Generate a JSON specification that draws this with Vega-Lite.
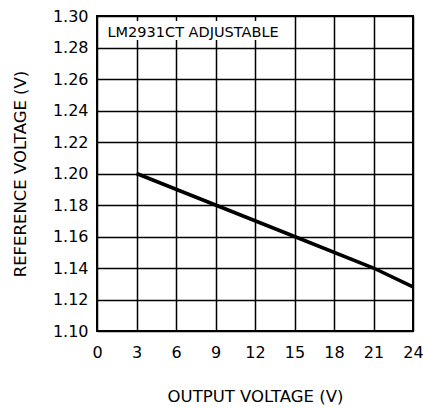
{
  "$schema": "https://vega.github.io/schema/vega-lite/v6.json",
  "width": 316,
  "height": 315,
  "autosize": {"type": "none"},
  "padding": {"left": 97, "top": 16, "right": 10, "bottom": 76},
  "background": "white",
  "config": {
    "view": {"stroke": "#000", "strokeWidth": 2},
    "font": "DejaVu Sans",
    "axis": {
      "grid": true, "gridColor": "#000", "gridOpacity": 1, "gridWidth": 1.5,
      "domain": false, "ticks": false, "labelOverlap": false,
      "labelFont": "DejaVu Sans", "labelFontSize": 16, "labelColor": "#000",
      "titleFont": "DejaVu Sans", "titleFontSize": 16.5, "titleFontWeight": "normal", "titleColor": "#000"
    }
  },
  "datasets": {
    "curve": [
      {"vout": 3, "vref": 1.200},
      {"vout": 9, "vref": 1.180},
      {"vout": 15, "vref": 1.160},
      {"vout": 21, "vref": 1.140},
      {"vout": 24, "vref": 1.128}
    ],
    "note": [
      {"label": "LM2931CT ADJUSTABLE", "x": 0.8, "y": 1.2892, "x1": 0.3, "x2": 14.6, "y1": 1.2848, "y2": 1.2968}
    ]
  },
  "layer": [
    {
      "data": {"name": "curve"},
      "mark": {"type": "line", "color": "#000", "strokeWidth": 3.5},
      "encoding": {
        "x": {
          "field": "vout", "type": "quantitative",
          "scale": {"domain": [0, 24], "nice": false, "zero": false},
          "axis": {"values": [0, 3, 6, 9, 12, 15, 18, 21, 24], "title": "OUTPUT VOLTAGE (V)", "labelPadding": 13, "titlePadding": 28, "labelFlush": false}
        },
        "y": {
          "field": "vref", "type": "quantitative",
          "scale": {"domain": [1.10, 1.30], "nice": false, "zero": false},
          "axis": {"values": [1.10, 1.12, 1.14, 1.16, 1.18, 1.20, 1.22, 1.24, 1.26, 1.28, 1.30], "format": ".2f", "title": "REFERENCE VOLTAGE (V)", "labelPadding": 9, "titlePadding": 24}
        }
      }
    },
    {
      "data": {"name": "note"},
      "mark": {"type": "rect", "color": "white"},
      "encoding": {
        "x": {"field": "x1", "type": "quantitative",
          "axis": {"values": [0, 3, 6, 9, 12, 15, 18, 21, 24], "title": "OUTPUT VOLTAGE (V)", "labelPadding": 13, "titlePadding": 28, "labelFlush": false}},
        "x2": {"field": "x2"},
        "y": {"field": "y1", "type": "quantitative",
          "axis": {"values": [1.10, 1.12, 1.14, 1.16, 1.18, 1.20, 1.22, 1.24, 1.26, 1.28, 1.30], "format": ".2f", "title": "REFERENCE VOLTAGE (V)", "labelPadding": 9, "titlePadding": 24}},
        "y2": {"field": "y2"}
      }
    },
    {
      "data": {"name": "note"},
      "mark": {"type": "text", "align": "left", "baseline": "middle", "fontSize": 14.5, "color": "#000"},
      "encoding": {
        "x": {"field": "x", "type": "quantitative",
          "axis": {"values": [0, 3, 6, 9, 12, 15, 18, 21, 24], "title": "OUTPUT VOLTAGE (V)", "labelPadding": 13, "titlePadding": 28, "labelFlush": false}},
        "y": {"field": "y", "type": "quantitative",
          "axis": {"values": [1.10, 1.12, 1.14, 1.16, 1.18, 1.20, 1.22, 1.24, 1.26, 1.28, 1.30], "format": ".2f", "title": "REFERENCE VOLTAGE (V)", "labelPadding": 9, "titlePadding": 24}},
        "text": {"field": "label"}
      }
    }
  ]
}
